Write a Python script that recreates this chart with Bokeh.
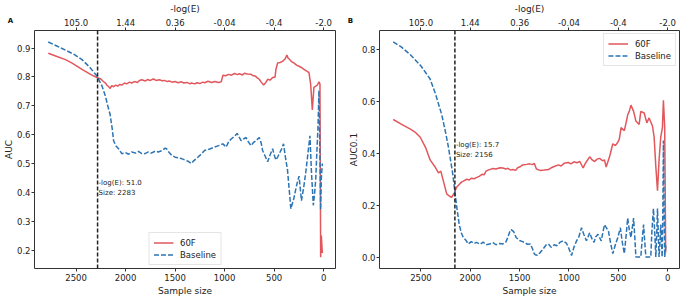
from bokeh.plotting import figure
from bokeh.layouts import row
from bokeh.models import Range1d, LinearAxis, FixedTicker, Span, Label, PrintfTickFormatter
from bokeh.embed import file_html
from bokeh.resources import INLINE

# ---------------- data ----------------
top_tick_pos = [2500, 2000, 1500, 1000, 500, 0]
top_tick_labels = ["105.0", "1.44", "0.36", "-0.04", "-0.4", "-2.0"]

# Panel A: AUC
a_60f_size = [2781, 2700, 2607, 2540, 2440, 2350, 2289, 2250, 2230, 2200, 2190, 2170, 2156, 2140, 2120,
              2100, 2080, 2060, 2038, 2010, 1990, 1960, 1938, 1910, 1880, 1860, 1837, 1800, 1780, 1750,
              1720, 1690, 1660, 1630, 1606, 1580, 1560, 1530, 1500, 1470, 1436, 1410, 1380, 1350, 1335,
              1302, 1280, 1250, 1220, 1200, 1168, 1130, 1100, 1060, 1034, 1017, 990, 960, 930, 900, 870,
              850, 820, 800, 770, 733, 710, 690, 670, 650, 630, 606, 585, 565, 540, 515, 490, 482, 465,
              440, 415, 390, 371, 360, 348, 320, 298, 270, 248, 220, 198, 170, 148, 131, 114, 98, 80, 63,
              47, 37, 30, 23, 13]
a_60f_auc = [0.882, 0.872, 0.860, 0.848, 0.826, 0.808, 0.798, 0.793, 0.786, 0.778, 0.772, 0.766, 0.760,
             0.770, 0.766, 0.772, 0.768, 0.774, 0.772, 0.779, 0.776, 0.782, 0.779, 0.784, 0.781, 0.788,
             0.790, 0.786, 0.791, 0.788, 0.793, 0.788, 0.790, 0.787, 0.788, 0.784, 0.786, 0.782, 0.784,
             0.780, 0.783, 0.779, 0.781, 0.776, 0.779, 0.776, 0.780, 0.777, 0.782, 0.780, 0.785, 0.781,
             0.784, 0.781, 0.783, 0.806, 0.804, 0.809, 0.806, 0.812, 0.808, 0.811, 0.807, 0.813, 0.810,
             0.809, 0.804, 0.803, 0.797, 0.792, 0.782, 0.772, 0.780, 0.792, 0.789, 0.798, 0.800, 0.826,
             0.848, 0.850, 0.854, 0.862, 0.876, 0.866, 0.862, 0.852, 0.848, 0.840, 0.837, 0.832, 0.826,
             0.820, 0.815, 0.775, 0.686, 0.764, 0.768, 0.772, 0.783, 0.775, 0.175, 0.250, 0.190]

a_base_size = [2781, 2700, 2607, 2520, 2440, 2360, 2289, 2240, 2206, 2180, 2156, 2135, 2121, 2100, 2071,
               2038, 2000, 1970, 1938, 1900, 1870, 1840, 1804, 1770, 1740, 1700, 1670, 1630, 1600, 1586,
               1560, 1536, 1500, 1470, 1436, 1400, 1370, 1335, 1310, 1285, 1250, 1202, 1150, 1101, 1060,
               1017, 984, 960, 934, 900, 874, 850, 833, 810, 783, 760, 733, 710, 683, 650, 630, 616,
               590, 565, 540, 515, 500, 482, 460, 448, 425, 405, 385, 365, 345, 331, 300, 281, 262,
               248, 235, 224, 200, 181, 160, 138, 124, 104, 90, 80, 68, 57, 47, 40, 37, 30, 23, 13]
a_base_auc = [0.921, 0.908, 0.893, 0.878, 0.860, 0.833, 0.803, 0.770, 0.736, 0.700, 0.669, 0.620, 0.579,
              0.562, 0.551, 0.534, 0.538, 0.532, 0.540, 0.536, 0.542, 0.535, 0.534, 0.540, 0.536, 0.543,
              0.540, 0.545, 0.553, 0.551, 0.538, 0.529, 0.522, 0.520, 0.517, 0.512, 0.508, 0.500, 0.510,
              0.517, 0.528, 0.545, 0.550, 0.557, 0.562, 0.568, 0.557, 0.575, 0.585, 0.594, 0.604, 0.590,
              0.579, 0.585, 0.590, 0.575, 0.562, 0.572, 0.579, 0.590, 0.570, 0.545, 0.525, 0.506, 0.530,
              0.551, 0.530, 0.512, 0.525, 0.534, 0.550, 0.568, 0.520, 0.478, 0.400, 0.343, 0.380, 0.411,
              0.440, 0.456, 0.410, 0.371, 0.420, 0.467, 0.530, 0.596, 0.478, 0.355, 0.400, 0.444, 0.540,
              0.624, 0.753, 0.600, 0.520, 0.340, 0.450, 0.500]

# Panel B: AUC0.1
b_60f_size = [2781, 2700, 2607, 2560, 2507, 2450, 2407, 2360, 2322, 2299, 2270, 2239, 2210, 2189, 2160,
              2139, 2110, 2090, 2060, 2038, 2010, 1990, 1960, 1938, 1910, 1880, 1860, 1840, 1820, 1804,
              1770, 1740, 1700, 1670, 1640, 1620, 1590, 1569, 1540, 1520, 1490, 1469, 1430, 1400, 1370,
              1352, 1330, 1292, 1250, 1208, 1180, 1150, 1107, 1080, 1050, 1007, 980, 950, 920, 890, 856,
              840, 820, 790, 765, 740, 715, 690, 660, 640, 623, 589, 556, 530, 505, 490, 472, 439, 420,
              405, 390, 372, 345, 322, 289, 272, 238, 211, 188, 154, 137, 120, 103, 87, 70, 53, 43, 30, 20]
b_60f_auc = [0.530, 0.512, 0.493, 0.482, 0.462, 0.420, 0.375, 0.350, 0.325, 0.332, 0.290, 0.245, 0.236,
             0.232, 0.250, 0.270, 0.282, 0.290, 0.296, 0.301, 0.298, 0.305, 0.303, 0.307, 0.312, 0.320,
             0.318, 0.332, 0.336, 0.338, 0.342, 0.340, 0.345, 0.344, 0.340, 0.343, 0.336, 0.338, 0.335,
             0.345, 0.350, 0.356, 0.358, 0.360, 0.357, 0.362, 0.340, 0.335, 0.336, 0.338, 0.345, 0.350,
             0.356, 0.352, 0.362, 0.365, 0.360, 0.368, 0.364, 0.369, 0.344, 0.358, 0.370, 0.387, 0.375,
             0.369, 0.378, 0.381, 0.372, 0.375, 0.348, 0.387, 0.437, 0.430, 0.443, 0.455, 0.499, 0.487,
             0.520, 0.548, 0.560, 0.585, 0.561, 0.524, 0.511, 0.561, 0.555, 0.517, 0.536, 0.505, 0.462,
             0.350, 0.257, 0.375, 0.462, 0.499, 0.604, 0.499, 0.020]

b_base_size = [2781, 2700, 2607, 2500, 2407, 2350, 2289, 2250, 2222, 2179, 2139, 2112, 2090, 2071, 2040,
               2021, 1990, 1960, 1938, 1900, 1870, 1840, 1804, 1770, 1740, 1700, 1670, 1640, 1620, 1600,
               1586, 1560, 1536, 1500, 1470, 1453, 1420, 1392, 1370, 1352, 1342, 1320, 1292, 1260, 1230,
               1208, 1180, 1150, 1124, 1090, 1057, 1024, 1000, 974, 950, 923, 900, 873, 850, 823, 790,
               770, 746, 730, 706, 673, 655, 640, 620, 600, 580, 556, 530, 505, 479, 460, 439, 420, 405,
               390, 372, 345, 330, 322, 300, 272, 258, 244, 232, 221, 200, 171, 160, 144, 130, 120, 110,
               103, 95, 87, 78, 70, 63, 56, 48, 43, 36, 30, 17]
b_base_auc = [0.827, 0.808, 0.778, 0.735, 0.685, 0.625, 0.548, 0.480, 0.425, 0.325, 0.200, 0.127, 0.095,
              0.078, 0.065, 0.053, 0.062, 0.055, 0.059, 0.052, 0.060, 0.050, 0.053, 0.058, 0.050, 0.055,
              0.053, 0.060, 0.078, 0.100, 0.108, 0.100, 0.078, 0.066, 0.062, 0.059, 0.052, 0.053, 0.035,
              0.016, 0.012, 0.010, 0.020, 0.035, 0.050, 0.053, 0.040, 0.050, 0.046, 0.060, 0.065, 0.055,
              0.035, 0.009, 0.040, 0.065, 0.080, 0.115, 0.090, 0.065, 0.096, 0.075, 0.059, 0.080, 0.090,
              0.065, 0.100, 0.127, 0.115, 0.102, 0.060, 0.016, 0.050, 0.078, 0.115, 0.060, 0.016, 0.090,
              0.152, 0.110, 0.078, 0.152, 0.060, 0.003, 0.003, 0.003, 0.070, 0.127, 0.060, 0.003, 0.003,
              0.003, 0.100, 0.189, 0.090, 0.003, 0.100, 0.189, 0.090, 0.003, 0.060, 0.127, 0.060, 0.003,
              0.200, 0.449, 0.200, 0.003, 0.050]

cut_a_size, cut_a_loge = 2283, "51.0"
cut_b_size, cut_b_loge = 2156, "15.7"

RED = "#e1575c"
BLUE = "#2c74b4"
FONT = "DejaVu Sans"
X_START, X_END = 2920, -120


def make_panel(width, border_left, border_right, y_start, y_end, y_ticks, y_label,
               s60, v60, sb, vb, cut_size, cut_loge, ann_y, legend_loc, panel_letter, letter_side):
    p = figure(width=width, height=298, x_range=Range1d(X_START, X_END),
               y_range=Range1d(y_start, y_end), output_backend="svg", toolbar_location=None,
               min_border_left=border_left, min_border_right=border_right,
               min_border_top=25, min_border_bottom=28)
    p.xgrid.visible = False
    p.ygrid.visible = False
    p.outline_line_color = "#333333"
    p.outline_line_width = 1
    p.background_fill_color = "white"
    p.border_fill_color = "white"

    p.line(s60, v60, line_color=RED, line_width=1.5, legend_label="60F")
    p.line(sb, vb, line_color=BLUE, line_width=1.5, line_dash="5 2", legend_label="Baseline")

    p.add_layout(Span(location=cut_size, dimension="height", line_color="#222222",
                      line_width=1.5, line_dash="4 2"))
    p.add_layout(Label(x=cut_size, y=ann_y, text="-log(E): %s\nSize: %d" % (cut_loge, cut_size),
                       text_font=FONT, text_font_size="7px", text_color="#222222",
                       text_baseline="top", x_offset=1))

    # bottom axis
    ax = p.xaxis[0]
    ax.ticker = FixedTicker(ticks=top_tick_pos)
    ax.axis_label = "Sample size"
    # top axis
    top = LinearAxis(ticker=FixedTicker(ticks=top_tick_pos),
                     major_label_overrides={t: l for t, l in zip(top_tick_pos, top_tick_labels)},
                     axis_label="-log(E)")
    p.add_layout(top, "above")

    p.yaxis[0].ticker = FixedTicker(ticks=y_ticks)
    p.yaxis[0].formatter = PrintfTickFormatter(format="%.1f")
    p.yaxis[0].axis_label = y_label

    for a in [ax, top, p.yaxis[0]]:
        a.major_label_text_font = FONT
        a.major_label_text_font_size = "8.5px"
        a.major_label_text_color = "#222222"
        a.axis_label_text_font = FONT
        a.axis_label_text_font_size = "9px"
        a.axis_label_text_font_style = "normal"
        a.axis_label_text_color = "#222222"
        a.axis_line_color = None
        a.major_tick_line_color = "#333333"
        a.major_tick_out = 3
        a.major_tick_in = 0
        a.minor_tick_line_color = None
        a.major_label_standoff = 2
        a.axis_label_standoff = 2
    p.yaxis[0].axis_label_standoff = 0
    p.yaxis[0].major_label_standoff = 1

    # panel letter, placed in a side panel so it is not clipped to the frame
    sx_per_unit = (width - border_left - border_right) / (X_START - X_END)
    sy_per_unit = (298 - 25 - 28) / (y_end - y_start)
    p.add_layout(Label(x=X_START + (border_left - 5) / sx_per_unit,
                       y=y_end + 10 / sy_per_unit,
                       text=panel_letter, text_font=FONT, text_font_size="7px",
                       text_font_style="bold", text_color="#111111",
                       text_baseline="middle", text_align="left"), letter_side)

    lg = p.legend[0]
    lg.location = legend_loc
    lg.label_text_font = FONT
    lg.label_text_font_size = "8.5px"
    lg.label_text_color = "#222222"
    lg.glyph_width = 20
    lg.glyph_height = 9
    lg.spacing = 1
    lg.padding = 4
    lg.margin = 3
    lg.label_standoff = 7
    lg.label_height = 11
    lg.border_line_color = "#cccccc"
    lg.background_fill_alpha = 0.85
    return p


y_ticks_a = [0.2, 0.3, 0.4, 0.5, 0.6, 0.7, 0.8, 0.9]
y_ticks_b = [0.0, 0.2, 0.4, 0.6, 0.8]

pa = make_panel(340, 32, 5, 0.136, 0.961, y_ticks_a, "AUC",
                a_60f_size, a_60f_auc, a_base_size, a_base_auc,
                cut_a_size, cut_a_loge, 0.445, "bottom_center", "A", "right")
pb = make_panel(341, 37, 2, -0.041, 0.871, y_ticks_b, "AUC0.1",
                b_60f_size, b_60f_auc, b_base_size, b_base_auc,
                cut_b_size, cut_b_loge, 0.447, "top_right", "B", "left")

layout = row(pa, pb, spacing=0)
open("out.html", "w").write(file_html(layout, INLINE))
